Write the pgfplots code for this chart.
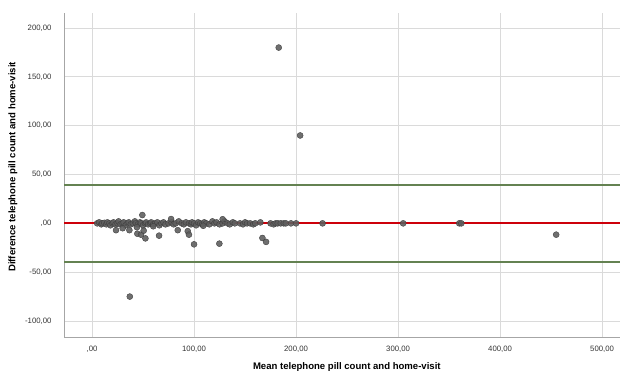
\documentclass[border=0pt]{standalone}
\usepackage{pgfplots}
\pgfplotsset{compat=1.18}
\usepackage{fontspec}
\setmainfont{Liberation Sans}
\definecolor{lgreen}{RGB}{100,130,82}
\definecolor{refline}{RGB}{205,0,10}
\definecolor{pgray}{RGB}{95,95,95}
\definecolor{gridc}{RGB}{218,218,218}
\begin{document}
\begin{tikzpicture}[x=1bp,y=1bp]
\begin{axis}[
  at={(64bp,36bp)}, anchor=south west,
  scale only axis, width=565.6bp, height=324bp,
  xmin=-27.5, xmax=527, ymin=-116.4, ymax=215.4,
  axis lines*=left, axis line style={draw=gray!70, -},
  xtick={0,100,200,300,400,500},
  xticklabels={{,00},{100,00},{200,00},{300,00},{400,00},{500,00}},
  ytick={-100,-50,0,50,100,150,200},
  yticklabels={{-100,00},{-50,00},{,00},{50,00},{100,00},{150,00},{200,00}},
  major tick length=0pt,
  grid=major, grid style={gridc, line width=0.8pt},
  tick label style={font=\fontsize{7.8}{8}\selectfont, text=black!80},
  yticklabel style={xshift=-9bp},
  xticklabel style={yshift=-6bp},
  xlabel={\textbf{Mean telephone pill count and home-visit}},
  ylabel={\textbf{Difference telephone pill count and home-visit}},
  label style={font=\fontsize{9.6}{10}\selectfont},
  xlabel style={at={(ticklabel cs:0.5)}, anchor=north, yshift=-2.5bp},
  ylabel style={at={(ticklabel cs:0.525)}, anchor=south, yshift=1bp},
  clip=false,
]
\addplot[draw=lgreen, line width=2.2pt, forget plot] coordinates {(-27.5,39.5) (527,39.5)};
\addplot[draw=lgreen, line width=2.2pt, forget plot] coordinates {(-27.5,-39.5) (527,-39.5)};
\addplot[only marks, mark=*, mark size=3bp, mark options={fill=pgray, draw=black!75, line width=0.4pt, fill opacity=0.9}] coordinates {
(5,0) (7,1) (9,-1) (10,0) (12,0.5) (14,-1) (15,1) (17,0) (18,-2) (20,0) (21,1) (23,-1) (25,0) (26,2) (28,-1)
(30,0) (31,1) (33,-2) (35,0) (36,1) (38,-1) (40,0) (42,2) (43,0) (45,-1) (47,1) (48,0) (50,-2) (52,0) (53,1)
(55,-1) (57,0) (58,1) (60,-1) (62,0) (64,1) (66,-2) (68,0) (70,1) (72,-1) (75,0) (78,1) (80,-1) (82,0) (85,2)
(88,0) (90,-1) (92,1) (95,0) (97,-1) (98,1) (100,0) (102,-2) (104,1) (106,0) (108,-1) (110,1) (112,0) (115,-1) (118,2)
(120,0) (122,1) (125,-1) (128,0) (130,2) (133,0) (135,-1) (138,1) (140,0) (145,0) (148,-1) (150,1) (152,0) (155,0) (158,-1)
(160,0) (165,1) (175,0) (178,-1) (180,0) (182,0) (185,0) (188,0) (190,0) (195,0) (200,0)
(226,0) (305,0) (360,0) (362,0)
(23.5,-7) (36.6,-7) (49.3,8.5) (44.4,-10.6) (48,-11.6) (52.3,-15.4) (50.6,-7.5) (65.7,-12.6)
(84,-7) (93.8,-8) (95,-11.6) (100,-21.5) (124.8,-20.8) (77.5,4.4) (128,4.2) (109,-2.5)
(30,-5) (44,-4) (60,-3) (167,-15) (170.6,-19)
(183,180) (204,90) (37,-75) (455,-11.6)
};
\addplot[draw=refline, line width=2.2pt, forget plot] coordinates {(-27.5,0) (527,0)};
\end{axis}
\pgfresetboundingbox
\useasboundingbox (0,0) rectangle (620,373);
\end{tikzpicture}
\end{document}
